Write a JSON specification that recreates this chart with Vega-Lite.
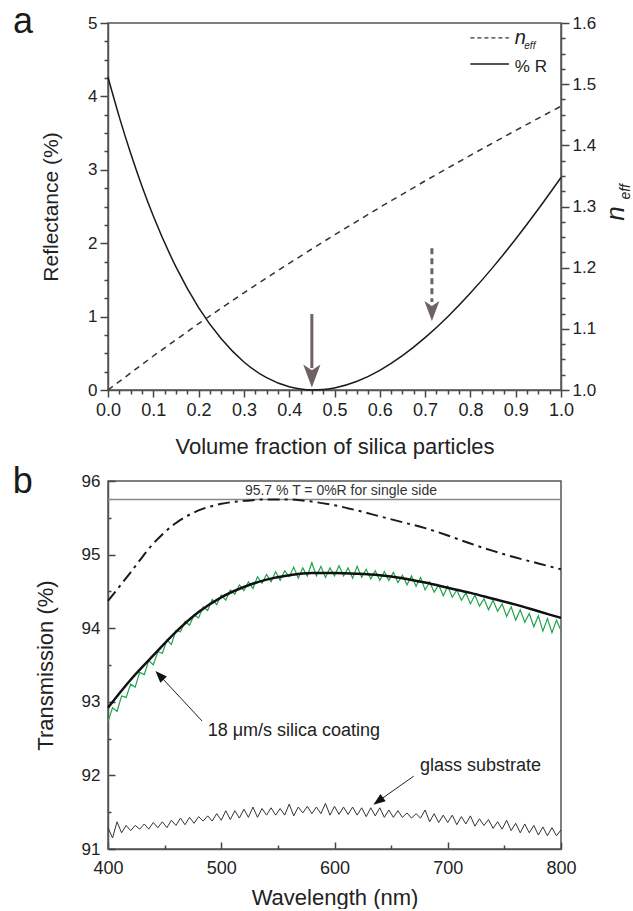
{
  "$schema": "https://vega.github.io/schema/vega-lite/v6.json",
  "padding": {"left": 12, "top": 3, "right": 0, "bottom": 0},
  "spacing": 5,
  "config": {
    "font": "Liberation Sans",
    "view": {"stroke": "#555", "strokeWidth": 1.5},
    "axis": {"ticks": true, "tickOpacity": 1, "domainColor": "#555", "domainWidth": 1.5, "tickColor": "#444", "tickWidth": 1.5, "labelColor": "#222", "titleColor": "#222", "titleFontWeight": "normal", "grid": false, "labelOverlap": false, "labelFlush": false}
  },
  "datasets": {
    "R": [
      {"f": 0, "R": 4.26}, {"f": 0.025, "R": 3.718}, {"f": 0.05, "R": 3.225}, {"f": 0.075, "R": 2.777}, {"f": 0.1, "R": 2.371},
      {"f": 0.15, "R": 1.677}, {"f": 0.2, "R": 1.123}, {"f": 0.25, "R": 0.697}, {"f": 0.3, "R": 0.382}, {"f": 0.35, "R": 0.168},
      {"f": 0.4, "R": 0.044}, {"f": 0.425, "R": 0.013}, {"f": 0.45, "R": 0.0003}, {"f": 0.475, "R": 0.006}, {"f": 0.5, "R": 0.028},
      {"f": 0.55, "R": 0.119}, {"f": 0.6, "R": 0.268}, {"f": 0.65, "R": 0.468}, {"f": 0.7, "R": 0.713}, {"f": 0.75, "R": 0.998},
      {"f": 0.8, "R": 1.32}, {"f": 0.85, "R": 1.674}, {"f": 0.9, "R": 2.057}, {"f": 0.95, "R": 2.465}, {"f": 1.0, "R": 2.895}
    ],
    "neff": [
      {"f": 0, "n": 1.0}, {"f": 0.1, "n": 1.0556}, {"f": 0.2, "n": 1.1085}, {"f": 0.3, "n": 1.1589}, {"f": 0.4, "n": 1.2072},
      {"f": 0.5, "n": 1.2537}, {"f": 0.6, "n": 1.2985}, {"f": 0.7, "n": 1.3418}, {"f": 0.8, "n": 1.3837}, {"f": 0.9, "n": 1.4244}, {"f": 1.0, "n": 1.464}
    ],
    "fit": [
      {"wl": 400, "T": 92.92}, {"wl": 420, "T": 93.3}, {"wl": 440, "T": 93.63}, {"wl": 460, "T": 93.95}, {"wl": 480, "T": 94.22},
      {"wl": 500, "T": 94.42}, {"wl": 520, "T": 94.56}, {"wl": 540, "T": 94.66}, {"wl": 560, "T": 94.72}, {"wl": 580, "T": 94.75},
      {"wl": 600, "T": 94.75}, {"wl": 620, "T": 94.74}, {"wl": 640, "T": 94.72}, {"wl": 660, "T": 94.68}, {"wl": 680, "T": 94.62},
      {"wl": 700, "T": 94.55}, {"wl": 720, "T": 94.48}, {"wl": 740, "T": 94.4}, {"wl": 760, "T": 94.32}, {"wl": 780, "T": 94.23}, {"wl": 800, "T": 94.14}
    ],
    "ideal": [
      {"wl": 400, "T": 94.37}, {"wl": 420, "T": 94.76}, {"wl": 440, "T": 95.15}, {"wl": 460, "T": 95.43}, {"wl": 480, "T": 95.6},
      {"wl": 500, "T": 95.69}, {"wl": 520, "T": 95.73}, {"wl": 540, "T": 95.75}, {"wl": 560, "T": 95.75}, {"wl": 580, "T": 95.72},
      {"wl": 600, "T": 95.67}, {"wl": 620, "T": 95.6}, {"wl": 640, "T": 95.52}, {"wl": 660, "T": 95.44}, {"wl": 680, "T": 95.36},
      {"wl": 700, "T": 95.26}, {"wl": 720, "T": 95.15}, {"wl": 740, "T": 95.05}, {"wl": 760, "T": 94.96}, {"wl": 780, "T": 94.88}, {"wl": 800, "T": 94.8}
    ],
    "green": [
      {"wl": 400, "T": 92.73}, {"wl": 404, "T": 92.92}, {"wl": 408, "T": 92.87}, {"wl": 412, "T": 93.08}, {"wl": 416, "T": 93.06},
      {"wl": 420, "T": 93.24}, {"wl": 424, "T": 93.2}, {"wl": 428, "T": 93.4}, {"wl": 432, "T": 93.37}, {"wl": 436, "T": 93.56},
      {"wl": 440, "T": 93.5}, {"wl": 444, "T": 93.68}, {"wl": 448, "T": 93.66}, {"wl": 452, "T": 93.84}, {"wl": 456, "T": 93.78},
      {"wl": 460, "T": 93.97}, {"wl": 464, "T": 93.95}, {"wl": 468, "T": 94.09}, {"wl": 472, "T": 94.04}, {"wl": 476, "T": 94.18},
      {"wl": 480, "T": 94.14}, {"wl": 484, "T": 94.29}, {"wl": 488, "T": 94.24}, {"wl": 492, "T": 94.39}, {"wl": 496, "T": 94.32},
      {"wl": 500, "T": 94.45}, {"wl": 504, "T": 94.38}, {"wl": 508, "T": 94.52}, {"wl": 512, "T": 94.46}, {"wl": 516, "T": 94.59},
      {"wl": 520, "T": 94.51}, {"wl": 524, "T": 94.63}, {"wl": 528, "T": 94.54}, {"wl": 532, "T": 94.7}, {"wl": 536, "T": 94.61},
      {"wl": 540, "T": 94.73}, {"wl": 544, "T": 94.63}, {"wl": 548, "T": 94.77}, {"wl": 552, "T": 94.65}, {"wl": 556, "T": 94.78},
      {"wl": 560, "T": 94.7}, {"wl": 564, "T": 94.83}, {"wl": 568, "T": 94.68}, {"wl": 572, "T": 94.82}, {"wl": 576, "T": 94.71},
      {"wl": 580, "T": 94.89}, {"wl": 584, "T": 94.71}, {"wl": 588, "T": 94.84}, {"wl": 592, "T": 94.69}, {"wl": 596, "T": 94.82},
      {"wl": 600, "T": 94.71}, {"wl": 604, "T": 94.85}, {"wl": 608, "T": 94.71}, {"wl": 612, "T": 94.82}, {"wl": 616, "T": 94.68},
      {"wl": 620, "T": 94.84}, {"wl": 624, "T": 94.69}, {"wl": 628, "T": 94.8}, {"wl": 632, "T": 94.67}, {"wl": 636, "T": 94.78},
      {"wl": 640, "T": 94.65}, {"wl": 644, "T": 94.77}, {"wl": 648, "T": 94.65}, {"wl": 652, "T": 94.76}, {"wl": 656, "T": 94.62},
      {"wl": 660, "T": 94.72}, {"wl": 664, "T": 94.59}, {"wl": 668, "T": 94.71}, {"wl": 672, "T": 94.57}, {"wl": 676, "T": 94.69},
      {"wl": 680, "T": 94.52}, {"wl": 684, "T": 94.63}, {"wl": 688, "T": 94.49}, {"wl": 692, "T": 94.59}, {"wl": 696, "T": 94.44},
      {"wl": 700, "T": 94.57}, {"wl": 704, "T": 94.42}, {"wl": 708, "T": 94.52}, {"wl": 712, "T": 94.38}, {"wl": 716, "T": 94.48},
      {"wl": 720, "T": 94.33}, {"wl": 724, "T": 94.45}, {"wl": 728, "T": 94.3}, {"wl": 732, "T": 94.4}, {"wl": 736, "T": 94.25},
      {"wl": 740, "T": 94.38}, {"wl": 744, "T": 94.23}, {"wl": 748, "T": 94.33}, {"wl": 752, "T": 94.16}, {"wl": 756, "T": 94.29},
      {"wl": 760, "T": 94.11}, {"wl": 764, "T": 94.25}, {"wl": 768, "T": 94.08}, {"wl": 772, "T": 94.2}, {"wl": 776, "T": 94.02},
      {"wl": 780, "T": 94.17}, {"wl": 784, "T": 93.96}, {"wl": 788, "T": 94.13}, {"wl": 792, "T": 93.94}, {"wl": 796, "T": 94.11}, {"wl": 800, "T": 93.97}
    ],
    "glass": [
      {"wl": 400, "T": 91.29}, {"wl": 404, "T": 91.15}, {"wl": 408, "T": 91.37}, {"wl": 412, "T": 91.22}, {"wl": 416, "T": 91.32},
      {"wl": 420, "T": 91.25}, {"wl": 424, "T": 91.32}, {"wl": 428, "T": 91.27}, {"wl": 432, "T": 91.34}, {"wl": 436, "T": 91.27},
      {"wl": 440, "T": 91.36}, {"wl": 444, "T": 91.29}, {"wl": 448, "T": 91.37}, {"wl": 452, "T": 91.29}, {"wl": 456, "T": 91.39},
      {"wl": 460, "T": 91.32}, {"wl": 464, "T": 91.42}, {"wl": 468, "T": 91.33}, {"wl": 472, "T": 91.43}, {"wl": 476, "T": 91.35},
      {"wl": 480, "T": 91.44}, {"wl": 484, "T": 91.38}, {"wl": 488, "T": 91.45}, {"wl": 492, "T": 91.38}, {"wl": 496, "T": 91.48},
      {"wl": 500, "T": 91.39}, {"wl": 504, "T": 91.52}, {"wl": 508, "T": 91.4}, {"wl": 512, "T": 91.52}, {"wl": 516, "T": 91.42},
      {"wl": 520, "T": 91.54}, {"wl": 524, "T": 91.43}, {"wl": 528, "T": 91.57}, {"wl": 532, "T": 91.43}, {"wl": 536, "T": 91.55},
      {"wl": 540, "T": 91.46}, {"wl": 544, "T": 91.56}, {"wl": 548, "T": 91.46}, {"wl": 552, "T": 91.55}, {"wl": 556, "T": 91.46},
      {"wl": 560, "T": 91.61}, {"wl": 564, "T": 91.45}, {"wl": 568, "T": 91.57}, {"wl": 572, "T": 91.49}, {"wl": 576, "T": 91.58},
      {"wl": 580, "T": 91.48}, {"wl": 584, "T": 91.57}, {"wl": 588, "T": 91.48}, {"wl": 592, "T": 91.62}, {"wl": 596, "T": 91.46},
      {"wl": 600, "T": 91.58}, {"wl": 604, "T": 91.47}, {"wl": 608, "T": 91.57}, {"wl": 612, "T": 91.47}, {"wl": 616, "T": 91.57},
      {"wl": 620, "T": 91.46}, {"wl": 624, "T": 91.56}, {"wl": 628, "T": 91.44}, {"wl": 632, "T": 91.56}, {"wl": 636, "T": 91.45},
      {"wl": 640, "T": 91.56}, {"wl": 644, "T": 91.43}, {"wl": 648, "T": 91.53}, {"wl": 652, "T": 91.43}, {"wl": 656, "T": 91.52},
      {"wl": 660, "T": 91.43}, {"wl": 664, "T": 91.49}, {"wl": 668, "T": 91.42}, {"wl": 672, "T": 91.48}, {"wl": 676, "T": 91.42},
      {"wl": 680, "T": 91.53}, {"wl": 684, "T": 91.37}, {"wl": 688, "T": 91.48}, {"wl": 692, "T": 91.36}, {"wl": 696, "T": 91.46},
      {"wl": 700, "T": 91.36}, {"wl": 704, "T": 91.46}, {"wl": 708, "T": 91.33}, {"wl": 712, "T": 91.44}, {"wl": 716, "T": 91.34},
      {"wl": 720, "T": 91.45}, {"wl": 724, "T": 91.31}, {"wl": 728, "T": 91.41}, {"wl": 732, "T": 91.32}, {"wl": 736, "T": 91.4},
      {"wl": 740, "T": 91.28}, {"wl": 744, "T": 91.37}, {"wl": 748, "T": 91.27}, {"wl": 752, "T": 91.39}, {"wl": 756, "T": 91.25},
      {"wl": 760, "T": 91.35}, {"wl": 764, "T": 91.22}, {"wl": 768, "T": 91.34}, {"wl": 772, "T": 91.22}, {"wl": 776, "T": 91.32},
      {"wl": 780, "T": 91.19}, {"wl": 784, "T": 91.3}, {"wl": 788, "T": 91.18}, {"wl": 792, "T": 91.29}, {"wl": 796, "T": 91.18}, {"wl": 800, "T": 91.26}
    ]
  },
  "vconcat": [
    {
      "width": 453,
      "height": 367,
      "layer": [
        {
          "layer": [
            {
              "data": {"name": "R"},
              "mark": {"type": "line", "color": "#1a1a1a", "strokeWidth": 1.5, "interpolate": "monotone"},
              "encoding": {
                "x": {"field": "f", "type": "quantitative", "scale": {"domain": [0, 1]},
                  "axis": {"orient": "bottom", "ticks": true, "title": "Volume fraction of silica particles", "titleFontSize": 22, "titlePadding": 17, "labelFontSize": 18, "labelPadding": 4, "tickSize": 7, "format": ".1f",
                    "values": [0,0.1,0.2,0.3,0.4,0.5,0.6,0.7,0.8,0.9,1]}},
                "y": {"field": "R", "type": "quantitative", "scale": {"domain": [0, 5]},
                  "axis": {"orient": "left", "ticks": true, "title": "Reflectance (%)", "titleFontSize": 21, "titleAngle": 270, "titleBaseline": "bottom", "titleAlign": "center", "titleX": -47, "titleY": 183.5,
                    "labelFontSize": 17, "labelPadding": 3, "tickSize": 8, "format": "d",
                    "values": [0,1,2,3,4,5]}}
              }
            },
            {
              "data": {"values": [{"f": 0.45, "R": 1.035, "R2": 0.3}]},
              "mark": {"type": "rule", "color": "#6e6262", "strokeWidth": 3},
              "encoding": {"x": {"field": "f", "type": "quantitative"}, "y": {"field": "R", "type": "quantitative"}, "y2": {"field": "R2"}}
            },
            {
              "data": {"values": [{"f": 0.45, "R": 0.19}]},
              "mark": {"type": "point", "shape": "M0,1L-0.75,-1L0,-0.5L0.75,-1Z", "size": 529, "filled": true, "opacity": 1, "color": "#6e6262", "strokeWidth": 0},
              "encoding": {"x": {"field": "f", "type": "quantitative"}, "y": {"field": "R", "type": "quantitative"}}
            },
            {
              "data": {"values": [{"f": 0.715, "R": 1.93, "R2": 1.2}]},
              "mark": {"type": "rule", "color": "#6e6262", "strokeWidth": 3, "strokeDash": [6, 4]},
              "encoding": {"x": {"field": "f", "type": "quantitative"}, "y": {"field": "R", "type": "quantitative"}, "y2": {"field": "R2"}}
            },
            {
              "data": {"values": [{"f": 0.715, "R": 1.076}]},
              "mark": {"type": "point", "shape": "M0,1L-0.75,-1L0,-0.5L0.75,-1Z", "size": 400, "filled": true, "opacity": 1, "color": "#6e6262", "strokeWidth": 0},
              "encoding": {"x": {"field": "f", "type": "quantitative"}, "y": {"field": "R", "type": "quantitative"}}
            },
            {
              "data": {"values": [{"f": 0.8, "f2": 0.885, "R": 4.796}]},
              "mark": {"type": "rule", "color": "#333", "strokeWidth": 1.3, "strokeDash": [4, 3]},
              "encoding": {"x": {"field": "f", "type": "quantitative"}, "x2": {"field": "f2"}, "y": {"field": "R", "type": "quantitative"}}
            },
            {
              "data": {"values": [{"f": 0.8, "f2": 0.885, "R": 4.441}]},
              "mark": {"type": "rule", "color": "#1a1a1a", "strokeWidth": 1.5},
              "encoding": {"x": {"field": "f", "type": "quantitative"}, "x2": {"field": "f2"}, "y": {"field": "R", "type": "quantitative"}}
            },
            {
              "data": {"values": [{"f": 0.898, "R": 4.714, "t": "n"}]},
              "mark": {"type": "text", "fontSize": 20, "fontStyle": "italic", "align": "left", "baseline": "alphabetic", "color": "#222"},
              "encoding": {"x": {"field": "f", "type": "quantitative"}, "y": {"field": "R", "type": "quantitative"}, "text": {"field": "t"}}
            },
            {
              "data": {"values": [{"f": 0.919, "R": 4.64, "t": "eff"}]},
              "mark": {"type": "text", "fontSize": 10, "fontStyle": "italic", "align": "left", "baseline": "alphabetic", "color": "#222"},
              "encoding": {"x": {"field": "f", "type": "quantitative"}, "y": {"field": "R", "type": "quantitative"}, "text": {"field": "t"}}
            },
            {
              "data": {"values": [{"f": 0.898, "R": 4.33, "t": "% R"}]},
              "mark": {"type": "text", "fontSize": 17, "align": "left", "baseline": "alphabetic", "color": "#222"},
              "encoding": {"x": {"field": "f", "type": "quantitative"}, "y": {"field": "R", "type": "quantitative"}, "text": {"field": "t"}}
            },
            {
              "data": {"values": [{"f": 1.152, "R": 2.7, "t": "eff"}]},
              "mark": {"type": "text", "fontSize": 14, "fontStyle": "italic", "align": "center", "baseline": "alphabetic", "angle": 270, "color": "#222"},
              "encoding": {"x": {"field": "f", "type": "quantitative"}, "y": {"field": "R", "type": "quantitative"}, "text": {"field": "t"}}
            },
            {
              "data": {"values": [{"f": -0.2097, "R": 4.864, "t": "a"}]},
              "mark": {"type": "text", "fontSize": 36, "align": "left", "baseline": "alphabetic", "color": "#1a1a1a"},
              "encoding": {"x": {"field": "f", "type": "quantitative"}, "y": {"field": "R", "type": "quantitative"}, "text": {"field": "t"}}
            }
          ]
        },
        {
          "data": {"name": "neff"},
          "mark": {"type": "line", "color": "#333", "strokeWidth": 1.5, "strokeDash": [6, 5]},
          "encoding": {
            "x": {"field": "f", "type": "quantitative", "scale": {"domain": [0, 1]}, "axis": null},
            "y": {"field": "n", "type": "quantitative", "scale": {"domain": [1, 1.6]},
              "axis": {"orient": "right", "ticks": true, "title": "n", "titleFontStyle": "italic", "titleFontSize": 26, "titleAngle": 270, "titleAlign": "center", "titleBaseline": "alphabetic", "titleX": 62, "titleY": 190,
                "labelFontSize": 17, "labelPadding": 3, "tickSize": 8, "format": ".1f",
                "values": [1,1.1,1.2,1.3,1.4,1.5,1.6]}}
          }
        },
        {
          "data": {"values": [{"f": 0, "R": 0}]},
          "mark": {"type": "point", "opacity": 0},
          "encoding": {
            "x": {"field": "f", "type": "quantitative", "scale": {"domain": [0, 1]},
              "axis": {"orient": "bottom", "ticks": true, "labels": false, "domain": false, "title": null, "tickSize": 4,
                "values": [0.025,0.05,0.075,0.125,0.15,0.175,0.225,0.25,0.275,0.325,0.35,0.375,0.425,0.45,0.475,0.525,0.55,0.575,0.625,0.65,0.675,0.725,0.75,0.775,0.825,0.85,0.875,0.925,0.95,0.975]}},
            "y": {"field": "R", "type": "quantitative", "scale": {"domain": [0, 5]},
              "axis": {"orient": "left", "ticks": true, "labels": false, "domain": false, "title": null, "tickSize": 4,
                "values": [0.25,0.5,0.75,1.25,1.5,1.75,2.25,2.5,2.75,3.25,3.5,3.75,4.25,4.5,4.75]}}
          }
        },
        {
          "data": {"values": [{"f": 0, "n": 1}]},
          "mark": {"type": "point", "opacity": 0},
          "encoding": {
            "x": {"field": "f", "type": "quantitative", "scale": {"domain": [0, 1]}, "axis": null},
            "y": {"field": "n", "type": "quantitative", "scale": {"domain": [1, 1.6]},
              "axis": {"orient": "right", "ticks": true, "labels": false, "domain": false, "title": null, "tickSize": 4,
                "values": [1.025,1.05,1.075,1.125,1.15,1.175,1.225,1.25,1.275,1.325,1.35,1.375,1.425,1.45,1.475,1.525,1.55,1.575]}}
          }
        }
      ],
      "resolve": {"scale": {"y": "independent"}, "axis": {"x": "independent", "y": "independent"}}
    },
    {
      "width": 453,
      "height": 368,
      "layer": [
        {
          "layer": [
            {
              "data": {"values": [{"T": 95.75}]},
              "mark": {"type": "rule", "color": "#8f8585", "strokeWidth": 1.5},
              "encoding": {
                "y": {"field": "T", "type": "quantitative", "scale": {"domain": [91, 96]},
                  "axis": {"orient": "left", "ticks": true, "title": "Transmission (%)", "titleFontSize": 22, "titleAngle": 270, "titleBaseline": "bottom", "titleAlign": "center", "titleX": -51, "titleY": 184,
                    "labelFontSize": 17, "labelPadding": 15, "tickSize": -7, "format": "d",
                    "values": [91,92,93,94,95,96]}}
              }
            },
            {
              "data": {"name": "ideal"},
              "mark": {"type": "line", "color": "#1a1a1a", "strokeWidth": 2, "strokeDash": [12, 5, 3, 5], "interpolate": "monotone"},
              "encoding": {
                "x": {"field": "wl", "type": "quantitative", "scale": {"domain": [400, 800]},
                  "axis": {"orient": "bottom", "ticks": true, "title": "Wavelength (nm)", "titleFontSize": 22, "titlePadding": 10, "labelFontSize": 18, "labelPadding": 17, "tickSize": -7,
                    "values": [400,500,600,700,800]}},
                "y": {"field": "T", "type": "quantitative"}
              }
            },
            {
              "data": {"name": "green"},
              "mark": {"type": "line", "color": "#1fa34a", "strokeWidth": 1.2},
              "encoding": {"x": {"field": "wl", "type": "quantitative"}, "y": {"field": "T", "type": "quantitative"}}
            },
            {
              "data": {"name": "fit"},
              "mark": {"type": "line", "color": "#111", "strokeWidth": 2.5, "interpolate": "monotone"},
              "encoding": {"x": {"field": "wl", "type": "quantitative"}, "y": {"field": "T", "type": "quantitative"}}
            },
            {
              "data": {"name": "glass"},
              "mark": {"type": "line", "color": "#333", "strokeWidth": 1},
              "encoding": {"x": {"field": "wl", "type": "quantitative"}, "y": {"field": "T", "type": "quantitative"}}
            },
            {
              "data": {"values": [{"wl": 605.7, "T": 95.86, "t": "95.7 % T = 0%R for single side"}]},
              "mark": {"type": "text", "fontSize": 14, "align": "center", "baseline": "middle", "color": "#333"},
              "encoding": {"x": {"field": "wl", "type": "quantitative"}, "y": {"field": "T", "type": "quantitative"}, "text": {"field": "t"}}
            },
            {
              "data": {"values": [{"wl": 483, "T": 92.74, "wl2": 445.5, "T2": 93.36}, {"wl": 670, "T": 91.99, "wl2": 638.6, "T2": 91.65}]},
              "mark": {"type": "rule", "color": "#222", "strokeWidth": 1},
              "encoding": {"x": {"field": "wl", "type": "quantitative"}, "y": {"field": "T", "type": "quantitative"}, "x2": {"field": "wl2"}, "y2": {"field": "T2"}}
            },
            {
              "data": {"values": [{"wl": 445.5, "T": 93.36}]},
              "mark": {"type": "point", "shape": "M0,-1L0.75,1L-0.75,1Z", "size": 144, "angle": 317, "filled": true, "opacity": 1, "color": "#111", "strokeWidth": 0},
              "encoding": {"x": {"field": "wl", "type": "quantitative"}, "y": {"field": "T", "type": "quantitative"}}
            },
            {
              "data": {"values": [{"wl": 638.6, "T": 91.65}]},
              "mark": {"type": "point", "shape": "M0,-1L0.75,1L-0.75,1Z", "size": 144, "angle": 234.5, "filled": true, "opacity": 1, "color": "#111", "strokeWidth": 0},
              "encoding": {"x": {"field": "wl", "type": "quantitative"}, "y": {"field": "T", "type": "quantitative"}}
            },
            {
              "data": {"values": [{"wl": 488, "T": 92.6, "t": "18 μm/s silica coating"}, {"wl": 675.5, "T": 92.13, "t": "glass substrate"}]},
              "mark": {"type": "text", "fontSize": 18, "align": "left", "baseline": "middle", "color": "#222"},
              "encoding": {"x": {"field": "wl", "type": "quantitative"}, "y": {"field": "T", "type": "quantitative"}, "text": {"field": "t"}}
            },
            {
              "data": {"values": [{"wl": 316, "T": 95.84, "t": "b"}]},
              "mark": {"type": "text", "fontSize": 36, "align": "left", "baseline": "alphabetic", "color": "#1a1a1a"},
              "encoding": {"x": {"field": "wl", "type": "quantitative"}, "y": {"field": "T", "type": "quantitative"}, "text": {"field": "t"}}
            }
          ]
        },
        {
          "data": {"values": [{"wl": 400, "T": 91}]},
          "mark": {"type": "point", "opacity": 0},
          "encoding": {
            "x": {"field": "wl", "type": "quantitative", "scale": {"domain": [400, 800]},
              "axis": {"orient": "bottom", "ticks": true, "labels": false, "domain": false, "title": null, "tickSize": -4, "values": [450,550,650,750]}},
            "y": {"field": "T", "type": "quantitative", "scale": {"domain": [91, 96]},
              "axis": {"orient": "left", "ticks": true, "labels": false, "domain": false, "title": null, "tickSize": -3, "values": [91.5,92.5,93.5,94.5,95.5]}}
          }
        }
      ],
      "resolve": {"axis": {"x": "independent", "y": "independent"}}
    }
  ]
}
